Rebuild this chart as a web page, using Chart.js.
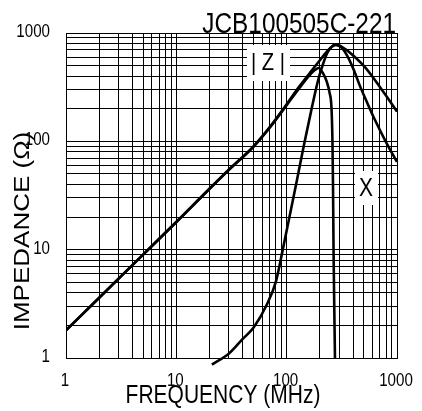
<!DOCTYPE html>
<html>
<head>
<meta charset="utf-8">
<script src="https://cdn.jsdelivr.net/npm/chart.js@4.4.1/dist/chart.umd.min.js"></script>
<style>
    html, body { margin: 0; padding: 0; background: #fff; }
    #contenedor { width: 422px; height: 411px; position: relative; }
</style>
</head>
<body>
<div id="contenedor"><canvas id="grafico-impedancia"></canvas></div>
<script>
// Datos (frecuencia en MHz, impedancia en ohmios)
const freqZ = [1, 2, 5, 10, 20, 30, 50, 70, 100, 130, 170, 200, 240, 280, 340, 415, 510, 630, 780, 1000];
const valoresZ = [1.8, 3.6, 9, 18, 36.5, 55, 90, 135, 220, 320, 455, 560, 700, 785, 710, 600, 486, 369, 272, 188];

const freqX = [1, 2, 5, 10, 20, 30, 50, 70, 100, 130, 160, 180, 195, 215, 230, 245, 255, 260, 263, 266, 270, 274];
const valoresX = [1.8, 3.6, 9, 18, 36.5, 54.5, 89, 133, 216, 310, 405, 455, 476, 420, 360, 280, 200, 100, 40, 10, 3, 1];

const freqR = [21, 30, 40, 50, 66, 80, 92, 107, 124, 143, 166, 191, 208, 236, 279, 316, 358, 406, 461, 533, 630, 793, 1000];
const valoresR = [0.87, 1.1, 1.5, 1.9, 3.1, 5.1, 9.9, 21, 44, 91, 187, 353, 476, 669, 775, 728, 602, 456, 325, 231, 158, 99, 64.5];

// Líneas de la cuadrícula y etiquetas de los ejes
const lineasCuadricula = [1, 2, 3, 4, 5, 6, 7, 8, 9, 10, 20, 30, 40, 50, 60, 70, 80, 90,
    100, 200, 300, 400, 500, 600, 700, 800, 900, 1000];
const etiquetasDecadas = [1, 10, 100, 1000];

const titulo = 'JCB100505C-221';
const tituloX = 'FREQUENCY (MHz)';
const tituloY = 'IMPEDANCE (\u03A9)';

const FUENTE = "'Liberation Sans', Arial, sans-serif";
const ESCALA_H = 0.84; // el original está algo comprimido en horizontal

function aPuntos(freqs, valores) {
    return freqs.map((f, i) => ({ x: f, y: valores[i] }));
}

function texto(ctx, t, x, y, size, align, base, girar) {
    ctx.save();
    ctx.translate(x, y);
    ctx.scale(ESCALA_H, 1);
    if (girar) ctx.rotate(-Math.PI / 2);
    ctx.font = size + 'px ' + FUENTE;
    ctx.fillStyle = '#000';
    ctx.textAlign = align;
    ctx.textBaseline = base;
    ctx.fillText(t, 0, 0);
    ctx.restore();
}

// Plugin para los textos (etiquetas, títulos, cajas blancas)
const pluginTextos = {
    id: 'textos',
    beforeDatasetsDraw(chart) {
        const ctx = chart.ctx;
        ctx.save();
        ctx.fillStyle = '#fff';
        ctx.fillRect(247, 45, 43, 36);   // caja |Z|
        ctx.fillRect(355, 171, 23, 34);  // caja X
        ctx.restore();
    },
    afterDraw(chart) {
        const ctx = chart.ctx;
        const ejeX = chart.scales.x;
        const ejeY = chart.scales.y;
        etiquetasDecadas.forEach(v => {
            texto(ctx, String(v), 50, ejeY.getPixelForValue(v) - 1, 18, 'right', 'middle', false);
            texto(ctx, String(v), ejeX.getPixelForValue(v) - 1, 381, 18, 'center', 'middle', false);
        });
        texto(ctx, titulo, 396, 33, 29, 'right', 'alphabetic', false);
        texto(ctx, tituloX, 223, 396, 25, 'center', 'middle', false);
        texto(ctx, tituloY, 23, 231, 26, 'center', 'middle', true);
        texto(ctx, '| Z |', 268, 63, 24, 'center', 'middle', false);
        texto(ctx, 'X', 366, 189, 25, 'center', 'middle', false);
    }
};

const estiloCurva = {
    borderColor: '#000',
    borderWidth: 2.6,
    pointRadius: 0,
    fill: false,
    cubicInterpolationMode: 'monotone',
    clip: { left: 0, top: 0, right: 0, bottom: 8 }
};

function ejeLog(escala) {
    escala.ticks = lineasCuadricula.map(v => ({ value: v }));
}

new Chart(document.getElementById('grafico-impedancia').getContext('2d'), {
    type: 'line',
    data: {
        datasets: [
            Object.assign({ label: '|Z|', data: aPuntos(freqZ, valoresZ) }, estiloCurva),
            Object.assign({ label: 'X', data: aPuntos(freqX, valoresX) }, estiloCurva),
            Object.assign({ label: 'R', data: aPuntos(freqR, valoresR) }, estiloCurva)
        ]
    },
    options: {
        responsive: true,
        maintainAspectRatio: false,
        animation: false,
        layout: { padding: { left: 66, right: 25, top: 33, bottom: 53 } },
        plugins: {
            legend: { display: false },
            tooltip: { enabled: false }
        },
        scales: {
            x: {
                type: 'logarithmic',
                min: 1,
                max: 1000,
                afterBuildTicks: ejeLog,
                afterFit: s => { s.height = 0; },
                ticks: { display: false },
                grid: { color: '#000', lineWidth: 1, drawTicks: false },
                border: { color: '#000', width: 1 }
            },
            y: {
                type: 'logarithmic',
                min: 1,
                max: 1000,
                afterBuildTicks: ejeLog,
                afterFit: s => { s.width = 0; },
                ticks: { display: false },
                grid: { color: '#000', lineWidth: 1, drawTicks: false },
                border: { color: '#000', width: 1 }
            }
        }
    },
    plugins: [pluginTextos]
});
</script>
</body>
</html>
